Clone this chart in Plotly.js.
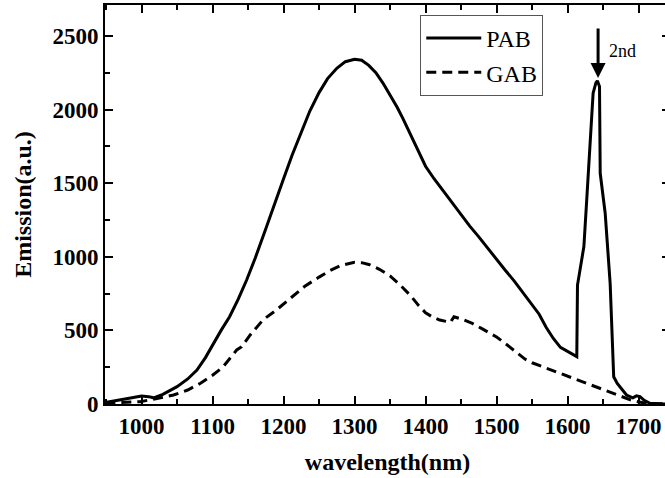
<!DOCTYPE html>
<html>
<head>
<meta charset="utf-8">
<script src="https://cdn.plot.ly/plotly-3.0.1.min.js"></script>
<style>
html,body{margin:0;padding:0;overflow:hidden;background:#fff;}
#chart{width:670px;height:478px;}
</style>
</head>
<body>
<div id="chart"></div>
<script>
// PAB series (wavelength nm, emission a.u.)
var pabX = [949, 960, 975, 990, 1000, 1010, 1017, 1030, 1040, 1050, 1065, 1078, 1090, 1101, 1112, 1124, 1136, 1148, 1160, 1175, 1187, 1200, 1212, 1225, 1237, 1250, 1262, 1275, 1287, 1300, 1310, 1320, 1330, 1340, 1350, 1360, 1368, 1377, 1385, 1392, 1400, 1412, 1425, 1437, 1450, 1462, 1475, 1487, 1500, 1512, 1525, 1537, 1550, 1560, 1570, 1580, 1590, 1600, 1613, 1614, 1620, 1623, 1627, 1632, 1636, 1640, 1642, 1645, 1646, 1653, 1660, 1665, 1670, 1683, 1692, 1697, 1702, 1708, 1716, 1730, 1744];
var pabY = [10, 20, 35, 50, 55, 50, 42, 65, 90, 118, 170, 231, 315, 412, 500, 593, 710, 842, 990, 1190, 1360, 1530, 1690, 1850, 1990, 2115, 2210, 2280, 2325, 2342, 2335, 2300, 2250, 2180, 2100, 2015, 1940, 1850, 1765, 1690, 1615, 1530, 1445, 1365, 1285, 1210, 1135, 1060, 985, 910, 835, 760, 680, 610, 520, 445, 385, 355, 322, 808, 1000, 1069, 1386, 1839, 2111, 2183, 2195, 2156, 1567, 1296, 820, 185, 140, 61, 42, 55, 50, 25, 5, 0, 0];
// GAB series
var gabX = [949, 970, 998, 1020, 1045, 1065, 1083, 1100, 1115, 1134, 1141, 1153, 1171, 1190, 1209, 1230, 1250, 1265, 1280, 1292, 1300, 1310, 1320, 1335, 1350, 1365, 1380, 1390, 1400, 1410, 1420, 1435, 1440, 1450, 1465, 1480, 1490, 1500, 1510, 1520, 1530, 1540, 1550, 1560, 1580, 1600, 1615, 1632, 1648, 1664, 1680, 1692, 1710, 1744];
var gabY = [5, 10, 16, 35, 61, 95, 141, 195, 253, 367, 389, 469, 571, 639, 718, 800, 862, 905, 940, 956, 962, 960, 948, 915, 870, 805, 730, 670, 620, 590, 570, 555, 592, 578, 550, 510, 485, 455, 420, 380, 340, 305, 280, 262, 225, 190, 162, 129, 100, 73, 45, 22, 5, 0];

var serif = "Liberation Serif";

var traces = [
  {x: pabX, y: pabY, name: "PAB", type: "scatter", mode: "lines",
   line: {color: "#000", width: 3}},
  {x: gabX, y: gabY, name: "GAB", type: "scatter", mode: "lines",
   line: {color: "#000", width: 3, dash: "10px,6px"}}
];

var layout = {
  width: 670, height: 478,
  margin: {l: 105, r: 0, t: 5, b: 74},
  paper_bgcolor: "#fff", plot_bgcolor: "#fff",
  showlegend: true,
  legend: {x: 0.558, y: 0.975, xanchor: "left", yanchor: "top",
    bgcolor: "#fff", bordercolor: "#555", borderwidth: 1, itemwidth: 55,
    font: {family: serif, size: 24, color: "#000"}, tracegroupgap: 0},
  xaxis: {range: [948.5, 1744.3], tick0: 1000, dtick: 100,
    ticks: "inside", ticklen: 8, tickwidth: 2, tickcolor: "#000",
    showline: true, linewidth: 2, linecolor: "#000", mirror: "ticks",
    showgrid: false, zeroline: false,
    minor: {ticks: "inside", ticklen: 5, tickwidth: 2, tickcolor: "#000", dtick: 50, tick0: 1000, showgrid: false},
    tickfont: {family: serif, size: 23, color: "#000", weight: "bold"},
    title: {text: "wavelength(nm)", font: {family: serif, size: 24, color: "#000", weight: "bold"}, standoff: 16}},
  yaxis: {range: [0, 2710], tick0: 0, dtick: 500,
    ticks: "inside", ticklen: 8, tickwidth: 2, tickcolor: "#000",
    showline: true, linewidth: 2, linecolor: "#000", mirror: "ticks",
    showgrid: false, zeroline: false,
    minor: {ticks: "inside", ticklen: 5, tickwidth: 2, tickcolor: "#000", dtick: 250, tick0: 0, showgrid: false},
    tickfont: {family: serif, size: 23, color: "#000", weight: "bold"},
    title: {text: "Emission(a.u.)", font: {family: serif, size: 24, color: "#000", weight: "bold"}, standoff: 14}},
  annotations: [
    {x: 1643, y: 2215, ax: 1643, ay: 2561, axref: "x", ayref: "y", xref: "x", yref: "y",
     text: "", showarrow: true, arrowhead: 2, arrowsize: 1, arrowwidth: 3, arrowcolor: "#000"},
    {x: 1656, y: 2400, xref: "x", yref: "y", text: "2nd", showarrow: false,
     xanchor: "left", font: {family: serif, size: 18, color: "#000"}}
  ]
};

Plotly.newPlot("chart", traces, layout, {displayModeBar: false, staticPlot: true});
</script>
</body>
</html>
